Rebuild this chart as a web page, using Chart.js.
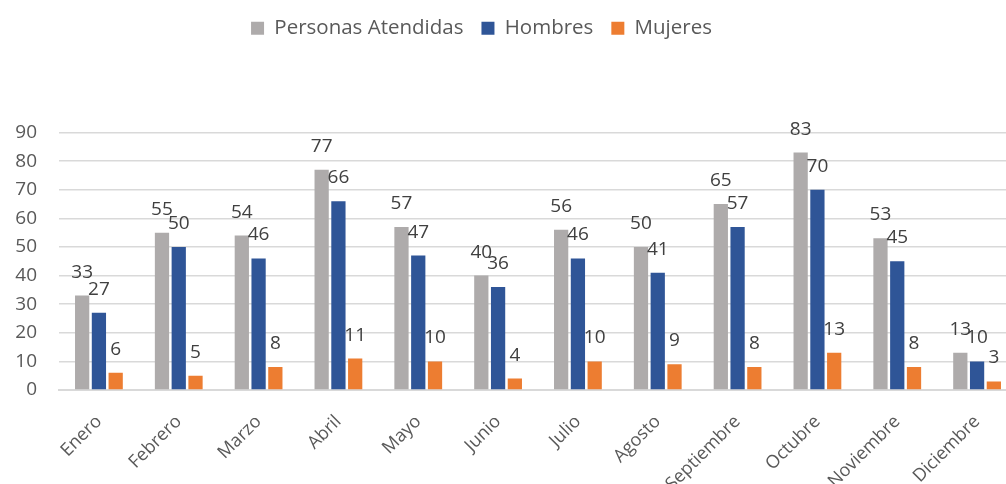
<!DOCTYPE html>
<html>
<head>
<title>Personas Atendidas por mes</title>
<script src="https://cdn.jsdelivr.net/npm/chart.js"></script>
<style>
    html, body { margin: 0; padding: 0; background: #fff; overflow: hidden; }
    .chart-container { position: relative; width: 1020px; height: 484px; }
</style>
</head>
<body>
<div class="chart-container">
    <canvas id="chart"></canvas>
</div>
<script>
var meses = ['Enero', 'Febrero', 'Marzo', 'Abril', 'Mayo', 'Junio', 'Julio',
             'Agosto', 'Septiembre', 'Octubre', 'Noviembre', 'Diciembre'];
var personas = [33, 55, 54, 77, 57, 40, 56, 50, 65, 83, 53, 13];
var hombres  = [27, 50, 46, 66, 47, 36, 46, 41, 57, 70, 45, 10];
var mujeres  = [6, 5, 8, 11, 10, 4, 10, 9, 8, 13, 8, 3];

var FONT = '"Open Sans"';

// numbers above each bar
var valueLabels = {
    id: 'valueLabels',
    afterDatasetsDraw: function(chart) {
        var ctx = chart.ctx;
        ctx.save();
        ctx.font = '19px ' + FONT;
        ctx.fillStyle = '#404040';
        ctx.textAlign = 'center';
        ctx.textBaseline = 'alphabetic';
        chart.data.datasets.forEach(function(ds, i) {
            chart.getDatasetMeta(i).data.forEach(function(bar, j) {
                ctx.fillText(ds.data[j], bar.x, bar.y - 18);
            });
        });
        ctx.restore();
    }
};

// extra room between legend and plot, legend nudged left like the original
var legendSpace = {
    id: 'legendSpace',
    beforeInit: function(chart) {
        var fit = chart.legend.fit;
        chart.legend.fit = function() {
            fit.bind(chart.legend)();
            this.height += 84;
        };
    },
    afterLayout: function(chart) {
        chart.legend.left -= 27;
        chart.legend.right -= 27;
    }
};

var ctx = document.getElementById('chart').getContext('2d');
new Chart(ctx, {
    type: 'bar',
    data: {
        labels: meses,
        datasets: [
            { label: 'Personas Atendidas', data: personas, backgroundColor: '#AEABAB' },
            { label: 'Hombres', data: hombres, backgroundColor: '#2F5597' },
            { label: 'Mujeres', data: mujeres, backgroundColor: '#ED7D31' }
        ]
    },
    options: {
        responsive: true,
        maintainAspectRatio: false,
        animation: false,
        categoryPercentage: 0.63,
        barPercentage: 0.85,
        layout: { padding: { top: 0, left: 0, right: 3, bottom: 0 } },
        plugins: {
            legend: {
                position: 'top',
                labels: {
                    boxWidth: 13,
                    boxHeight: 13,
                    padding: 18,
                    color: '#595959',
                    font: { family: FONT, size: 20.5 }
                }
            },
            tooltip: { enabled: false }
        },
        scales: {
            x: {
                grid: { display: false },
                border: { color: '#D9D9D9', width: 2 },
                ticks: {
                    color: '#595959',
                    font: { family: FONT, size: 18 },
                    minRotation: 45,
                    maxRotation: 45,
                    padding: 13
                },
                afterFit: function(scale) { scale.height = 94; }
            },
            y: {
                min: 0,
                max: 90,
                grid: { color: '#D9D9D9', lineWidth: 1.5, drawTicks: false },
                border: { display: false },
                ticks: {
                    stepSize: 10,
                    color: '#595959',
                    font: { family: FONT, size: 19 },
                    padding: 22
                },
                afterFit: function(scale) { scale.width = 59; }
            }
        }
    },
    plugins: [valueLabels, legendSpace]
});
</script>
</body>
</html>
